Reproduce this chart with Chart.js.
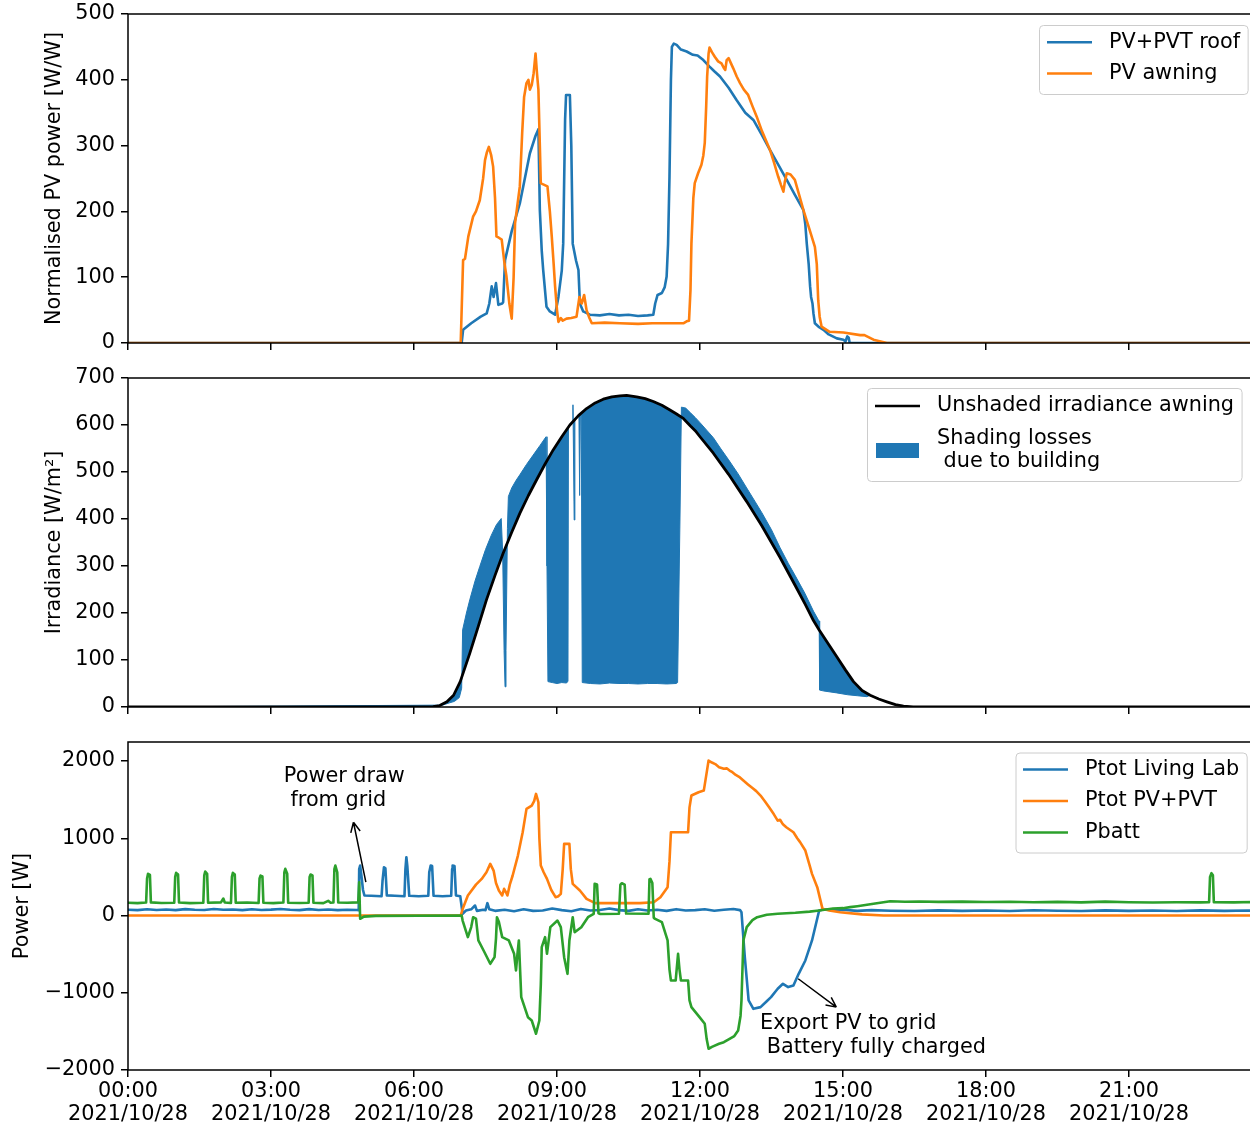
<!DOCTYPE html>
<html>
<head>
<meta charset="utf-8">
<script src="https://cdn.jsdelivr.net/npm/chart.js@4.4.1/dist/chart.umd.min.js"></script>
<style>
html, body { margin: 0; padding: 0; overflow: hidden; background: #fff; }
#wrap { position: relative; width: 1290px; height: 1126px; }
canvas { position: absolute; left: 0; }
</style>
</head>
<body>
<div id="wrap">
  <canvas id="c1" width="1290" height="360" style="top:0px"></canvas>
  <canvas id="c2" width="1290" height="360" style="top:360px"></canvas>
  <canvas id="c3" width="1290" height="406" style="top:720px"></canvas>
</div>
<script>
// ---- data (time in hours of 2021/10/28) ----
const xTickValues = [0, 3, 6, 9, 12, 15, 18, 21];
const xTickLabels = ['00:00', '03:00', '06:00', '09:00', '12:00', '15:00', '18:00', '21:00'];
const dateLabel = '2021/10/28';
const yTicksPv = [0, 100, 200, 300, 400, 500];
const yTicksIrr = [0, 100, 200, 300, 400, 500, 600, 700];
const yTicksPow = [-2000, -1000, 0, 1000, 2000];

// normalised PV power [W/W]
const pvRoof = [[0,0],[7.0,0],[7.03,20],[7.2,30],[7.4,40],[7.525,45],[7.58,60],[7.63,86],[7.67,70],[7.72,91],[7.77,58],[7.85,60],[7.87,62],[7.91,126],[8.05,170],[8.22,212],[8.43,288],[8.55,315],[8.61,325],[8.64,202],[8.68,140],[8.71,111],[8.78,55],[8.85,48],[8.96,43],[9.03,70],[9.10,110],[9.13,151],[9.17,340],[9.19,377],[9.27,377],[9.30,300],[9.33,151],[9.40,125],[9.45,111],[9.48,60],[9.55,48],[9.69,43],[9.9,42],[10.1,44],[10.3,42],[10.5,43],[10.7,41],[10.9,42],[11.02,43],[11.06,60],[11.11,73],[11.20,76],[11.26,85],[11.30,101],[11.33,150],[11.36,253],[11.39,400],[11.41,450],[11.45,455],[11.51,453],[11.6,446],[11.72,443],[11.85,438],[11.95,437],[12.07,430],[12.2,420],[12.3,413],[12.42,405],[12.6,388],[12.77,369],[12.95,350],[13.12,339],[13.3,316],[13.47,293],[13.65,270],[13.82,248],[14.0,224],[14.17,202],[14.21,180],[14.24,151],[14.28,120],[14.31,86],[14.33,70],[14.36,60],[14.38,45],[14.41,30],[14.5,24],[14.59,20],[14.7,13],[14.87,7],[15.01,5],[15.05,2],[15.09,10],[15.12,8],[15.14,0],[24,0]];
const pvAwning = [[0,0],[6.98,0],[7.03,126],[7.07,128],[7.14,162],[7.24,192],[7.30,200],[7.38,217],[7.45,250],[7.49,278],[7.53,290],[7.57,298],[7.62,285],[7.66,268],[7.70,220],[7.73,162],[7.78,160],[7.84,157],[7.90,120],[7.94,101],[8.00,60],[8.05,37],[8.09,100],[8.12,182],[8.17,210],[8.22,238],[8.27,320],[8.31,374],[8.36,395],[8.40,400],[8.43,385],[8.47,392],[8.51,410],[8.55,440],[8.58,410],[8.61,385],[8.64,300],[8.66,243],[8.71,241],[8.80,238],[8.85,200],[8.89,162],[8.93,120],[8.96,86],[9.00,50],[9.03,32],[9.08,38],[9.12,34],[9.20,37],[9.30,38],[9.41,40],[9.44,55],[9.47,70],[9.50,62],[9.52,60],[9.57,73],[9.62,50],[9.68,38],[9.73,30],[10.0,31],[10.32,30],[10.7,29],[11.0,30],[11.3,30],[11.65,30],[11.72,33],[11.77,34],[11.80,80],[11.82,151],[11.86,220],[11.89,243],[11.96,258],[12.03,271],[12.07,285],[12.10,304],[12.13,360],[12.15,405],[12.18,440],[12.20,449],[12.25,442],[12.31,435],[12.38,428],[12.45,425],[12.50,418],[12.53,415],[12.56,430],[12.60,433],[12.65,425],[12.70,417],[12.77,405],[12.84,395],[12.92,385],[13.01,377],[13.10,360],[13.19,344],[13.30,322],[13.40,305],[13.47,293],[13.55,275],[13.64,253],[13.70,240],[13.75,230],[13.78,245],[13.82,258],[13.90,256],[13.99,248],[14.08,225],[14.17,202],[14.30,172],[14.41,146],[14.45,120],[14.48,65],[14.51,40],[14.55,25],[14.72,17],[15.01,16],[15.36,12],[15.45,12],[15.64,5],[15.92,0],[24,0]];

// irradiance [W/m2]
const irrUnshaded = [[0,0],[6.13,0],[6.4,1],[6.54,3],[6.69,11],[6.83,25],[6.97,54],[7.17,114],[7.35,172],[7.52,228],[7.70,280],[7.87,327],[8.05,372],[8.22,412],[8.40,450],[8.57,483],[8.75,517],[8.92,547],[9.10,575],[9.27,600],[9.45,620],[9.62,635],[9.80,647],[9.97,655],[10.15,660],[10.32,662],[10.46,663],[10.67,660],[10.85,656],[11.02,650],[11.20,642],[11.37,632],[11.50,624],[11.65,614],[11.80,598],[11.90,588],[12.0,575],[12.28,540],[12.60,495],[12.98,437],[13.30,385],[13.68,318],[14.0,258],[14.2,220],[14.38,184],[14.50,164],[14.70,133],[14.87,107],[15.05,79],[15.22,54],[15.40,35],[15.57,25],[15.75,17],[15.92,11],[16.10,5],[16.27,2],[16.47,0],[24,0]];
const irrMeasured = [[0,0],[6.6,4],[6.75,9],[6.85,12],[6.95,20],[7.0,40],[7.02,164],[7.10,200],[7.17,228],[7.28,268],[7.38,299],[7.50,335],[7.62,365],[7.73,388],[7.83,401],[7.86,330],[7.89,120],[7.91,43],[7.93,120],[7.96,380],[7.98,448],[8.05,466],[8.14,482],[8.22,494],[8.36,516],[8.50,536],[8.64,556],[8.77,575],[8.79,300],[8.81,54],[8.9,52],[9.0,50],[9.1,52],[9.2,51],[9.23,55],[9.24,596],[9.32,606],[9.335,643],[9.35,500],[9.36,398],[9.375,611],[9.46,621],[9.475,450],[9.49,623],[9.51,625],[9.53,52],[9.7,50],[9.9,49],[10.1,51],[10.3,50],[10.5,50],[10.7,49],[10.9,50],[11.1,50],[11.3,49],[11.5,50],[11.53,52],[11.58,400],[11.61,638],[11.70,636],[11.80,626],[11.90,616],[12.0,605],[12.14,589],[12.28,573],[12.44,549],[12.60,526],[12.80,496],[12.98,466],[13.15,438],[13.30,413],[13.50,377],[13.68,339],[13.85,306],[14.0,279],[14.2,242],[14.38,204],[14.48,186],[14.50,183],[14.51,36],[14.60,34],[14.87,30],[15.10,26],[15.30,24],[15.50,22],[15.57,25],[15.75,17],[15.92,11],[16.10,5],[16.27,2],[16.47,0],[24,0]];

// power [W]
const pLivingLab = [[0,75],[0.2,70],[0.4,80],[0.6,72],[0.8,78],[1.0,70],[1.2,82],[1.4,75],[1.6,72],[1.8,85],[2.0,74],[2.2,78],[2.4,70],[2.6,80],[2.8,72],[3.0,76],[3.2,84],[3.4,74],[3.6,70],[3.8,82],[4.0,72],[4.2,78],[4.4,70],[4.6,75],[4.8,72],[4.84,70],[4.85,600],[4.87,647],[4.90,500],[4.93,330],[4.96,259],[5.1,255],[5.32,250],[5.34,450],[5.37,625],[5.40,610],[5.43,260],[5.6,255],[5.80,250],[5.82,600],[5.84,755],[5.86,640],[5.90,255],[6.1,250],[6.30,255],[6.32,560],[6.35,647],[6.38,640],[6.41,255],[6.6,250],[6.78,255],[6.80,600],[6.81,647],[6.85,640],[6.88,259],[6.97,250],[7.02,22],[7.09,65],[7.2,80],[7.28,129],[7.32,60],[7.45,75],[7.5,70],[7.54,160],[7.58,80],[7.7,60],[7.9,75],[8.1,55],[8.3,80],[8.5,60],[8.7,65],[8.9,90],[9.1,70],[9.3,55],[9.5,85],[9.7,65],[9.9,72],[10.1,90],[10.3,70],[10.5,60],[10.7,80],[10.9,65],[11.1,75],[11.3,60],[11.5,82],[11.7,65],[11.9,70],[12.1,80],[12.3,62],[12.5,75],[12.7,85],[12.84,70],[12.87,43],[12.94,-539],[13.02,-1100],[13.12,-1208],[13.27,-1186],[13.40,-1110],[13.49,-1057],[13.63,-949],[13.74,-884],[13.85,-927],[13.96,-906],[14.07,-755],[14.21,-582],[14.35,-323],[14.50,65],[14.6,80],[14.8,70],[15.0,75],[15.3,60],[15.6,70],[16.0,62],[16.5,58],[17.0,66],[17.5,60],[18.0,64],[18.5,58],[19.0,68],[19.5,62],[20.0,58],[20.5,66],[21.0,60],[21.5,64],[22.0,58],[22.5,66],[23.0,60],[23.5,64],[24,60]];
const pPvPvt = [[0,0],[6.98,0],[7.02,84],[7.13,259],[7.30,400],[7.42,474],[7.52,560],[7.60,668],[7.67,582],[7.72,420],[7.78,323],[7.85,259],[7.89,345],[7.93,300],[7.96,259],[8.01,400],[8.07,518],[8.18,776],[8.28,1078],[8.36,1380],[8.47,1423],[8.52,1480],[8.56,1574],[8.61,1466],[8.63,1000],[8.66,647],[8.72,560],[8.79,474],[8.88,330],[8.97,237],[9.03,250],[9.08,280],[9.12,600],[9.15,927],[9.26,927],[9.29,600],[9.33,410],[9.48,323],[9.62,216],[9.80,160],[10.2,160],[10.74,160],[11.03,172],[11.17,237],[11.32,367],[11.36,700],[11.39,1078],[11.75,1078],[11.78,1400],[11.82,1553],[11.97,1596],[12.08,1617],[12.14,1850],[12.18,2006],[12.25,1980],[12.32,1960],[12.40,1920],[12.50,1900],[12.56,1905],[12.62,1876],[12.68,1855],[12.75,1820],[12.82,1795],[12.91,1747],[13.00,1700],[13.10,1650],[13.18,1610],[13.27,1553],[13.36,1480],[13.45,1400],[13.55,1310],[13.63,1229],[13.68,1240],[13.74,1180],[13.81,1143],[13.96,1078],[14.04,1000],[14.10,950],[14.21,841],[14.30,650],[14.35,539],[14.46,367],[14.57,86],[14.71,65],[14.94,43],[15.4,15],[15.85,0],[24,0]];
const pBatt = [[0,165],[0.2,160],[0.38,168],[0.40,480],[0.42,540],[0.46,525],[0.48,170],[0.7,162],[0.97,165],[0.99,500],[1.01,552],[1.05,530],[1.07,168],[1.3,160],[1.58,166],[1.60,520],[1.62,569],[1.66,540],[1.68,165],[1.95,170],[2.0,220],[2.03,168],[2.16,162],[2.18,500],[2.20,552],[2.24,530],[2.26,165],[2.5,168],[2.74,162],[2.76,480],[2.78,517],[2.82,505],[2.84,165],[3.05,160],[3.26,168],[3.28,560],[3.30,604],[3.34,540],[3.36,165],[3.6,162],[3.79,166],[3.81,500],[3.83,530],[3.87,520],[3.89,165],[4.1,160],[4.2,190],[4.25,165],[4.31,168],[4.33,600],[4.35,647],[4.39,560],[4.41,168],[4.6,165],[4.83,170],[4.85,431],[4.87,-43],[4.95,-15],[5.2,-5],[7.0,0],[7.02,-65],[7.13,-280],[7.20,-150],[7.24,-22],[7.30,-40],[7.35,-323],[7.46,-453],[7.60,-625],[7.69,-539],[7.72,-300],[7.74,-22],[7.78,-80],[7.85,-280],[7.99,-323],[8.10,-496],[8.14,-712],[8.17,-500],[8.20,-323],[8.25,-1057],[8.39,-1316],[8.47,-1359],[8.56,-1531],[8.63,-1359],[8.66,-900],[8.68,-410],[8.75,-280],[8.79,-496],[8.86,-151],[9.01,-65],[9.08,-151],[9.15,-539],[9.22,-755],[9.26,-323],[9.33,-22],[9.37,-216],[9.51,-151],[9.65,-22],[9.77,22],[9.79,410],[9.84,400],[9.87,30],[9.91,20],[10.30,22],[10.33,400],[10.36,418],[10.42,400],[10.45,25],[10.92,22],[10.94,470],[10.96,474],[11.0,420],[11.03,-30],[11.06,-43],[11.20,-86],[11.32,-323],[11.36,-700],[11.39,-841],[11.49,-841],[11.54,-496],[11.57,-700],[11.60,-841],[11.75,-841],[11.78,-1100],[11.82,-1186],[11.99,-1316],[12.10,-1402],[12.14,-1600],[12.18,-1725],[12.25,-1700],[12.40,-1661],[12.50,-1640],[12.62,-1596],[12.72,-1560],[12.80,-1488],[12.85,-1300],[12.87,-1100],[12.91,-323],[12.98,-151],[13.10,-60],[13.20,-22],[13.40,10],[13.63,22],[14.0,35],[14.30,50],[14.50,65],[14.79,90],[15.0,95],[15.15,108],[15.3,120],[15.64,151],[15.99,185],[16.3,178],[16.6,182],[17.0,176],[17.5,180],[18.0,174],[18.5,178],[19.0,172],[19.5,176],[20.0,170],[20.5,180],[21.0,172],[21.5,168],[22.0,172],[22.5,170],[22.68,172],[22.70,500],[22.73,548],[22.76,520],[22.78,172],[23.2,170],[23.6,174],[24,172]];

// ---- styling ----
const BLUE = '#1f77b4', ORANGE = '#ff7f0e', GREEN = '#2ca02c';
const FS = 20.8;
const FONT = '"DejaVu Sans", sans-serif';
Chart.defaults.font.family = FONT;
Chart.defaults.font.size = FS;
Chart.defaults.color = '#000';

const pts = a => a.map(([x, y]) => ({ x, y }));
const fmt = v => (v < 0 ? '\u2212' + Math.abs(v) : String(v));

function line(label, data, color, order, extra) {
  return Object.assign({
    label, data: pts(data), borderColor: color, backgroundColor: color,
    borderWidth: 2.6, pointRadius: 0, fill: false, tension: 0, order,
    borderJoinStyle: 'round', borderCapStyle: 'round'
  }, extra || {});
}

function xAxis(showLabels, h) {
  return {
    type: 'linear', min: 0, max: 24,
    grid: { drawOnChartArea: false, drawTicks: true, tickLength: 7, color: '#000', lineWidth: 1.5 },
    border: { display: false },
    ticks: {
      display: showLabels, autoSkip: false, maxRotation: 0, padding: 3,
      font: { size: FS, lineHeight: 1.12 },
      callback: v => {
        const i = xTickValues.indexOf(v);
        return i < 0 ? '' : [xTickLabels[i], dateLabel];
      }
    },
    afterBuildTicks: s => { s.ticks = xTickValues.map(v => ({ value: v })); },
    afterFit: s => { s.height = h; s.paddingLeft = 0; s.paddingRight = 0; }
  };
}

function yAxis(min, max, tickVals, title, titlePad) {
  return {
    type: 'linear', min, max,
    grid: { drawOnChartArea: false, drawTicks: true, tickLength: 7, color: '#000', lineWidth: 1.5 },
    border: { display: false },
    ticks: { padding: 6, callback: v => fmt(v) },
    afterBuildTicks: s => { s.ticks = tickVals.map(v => ({ value: v })); },
    title: { display: true, text: title, padding: { top: titlePad, bottom: 0 }, font: { size: FS } },
    afterFit: s => { s.width = 128; s.paddingTop = 0; s.paddingBottom = 0; }
  };
}

// frame, boxed legend and annotations
const decor = {
  id: 'decor',
  afterDraw(chart) {
    const { ctx, chartArea: a } = chart;
    const o = chart.options.plugins.decor || {};
    ctx.save();
    ctx.strokeStyle = '#000';
    ctx.lineWidth = 1.5;
    ctx.strokeRect(a.left, a.top, a.right - a.left, a.bottom - a.top);

    ctx.font = FS + 'px ' + FONT;
    ctx.textBaseline = 'middle';
    if (o.legend) {
      const L = o.legend;
      let maxW = 0;
      L.items.forEach(it => {
        chart.data.datasets[it.ds].label.split('\n').forEach(t => {
          maxW = Math.max(maxW, ctx.measureText(t).width);
        });
      });
      const w = L.textX - L.x + maxW + 8;
      ctx.beginPath();
      ctx.roundRect(L.x, L.y, w, L.h, 4);
      ctx.fillStyle = 'rgba(255,255,255,0.8)';
      ctx.fill();
      ctx.strokeStyle = '#cccccc';
      ctx.lineWidth = 1;
      ctx.stroke();
      L.items.forEach(it => {
        const d = chart.data.datasets[it.ds];
        const col = it.color || d.borderColor;
        if (it.kind === 'patch') {
          ctx.fillStyle = col;
          ctx.fillRect(L.lineX[0] + 1, it.y - 7.5, L.lineX[1] - L.lineX[0] - 2, 15);
        } else {
          ctx.strokeStyle = col;
          ctx.lineWidth = 2.6;
          ctx.beginPath();
          ctx.moveTo(L.lineX[0], it.y);
          ctx.lineTo(L.lineX[1], it.y);
          ctx.stroke();
        }
        ctx.fillStyle = '#000';
        const lines = d.label.split('\n');
        lines.forEach((t, k) => {
          const ty = lines.length === 1 ? it.y : it.y + (k - (lines.length - 1) / 2) * 23;
          ctx.fillText(t, L.textX, ty);
        });
      });
    }
    (o.notes || []).forEach(n => {
      const xs = chart.scales.x, ys = chart.scales.y;
      ctx.fillStyle = '#000';
      ctx.textAlign = 'left';
      const tx = xs.getPixelForValue(n.at[0]), ty = ys.getPixelForValue(n.at[1]);
      n.lines.forEach((t, k) => ctx.fillText(t, tx, ty + k * 24));
      const x0 = xs.getPixelForValue(n.from[0]), y0 = ys.getPixelForValue(n.from[1]);
      const x1 = xs.getPixelForValue(n.to[0]), y1 = ys.getPixelForValue(n.to[1]);
      const ang = Math.atan2(y1 - y0, x1 - x0);
      ctx.strokeStyle = '#000';
      ctx.lineWidth = 1.5;
      ctx.beginPath();
      ctx.moveTo(x0, y0);
      ctx.lineTo(x1, y1);
      [-0.45, 0.45].forEach(da => {
        ctx.moveTo(x1, y1);
        ctx.lineTo(x1 - 11 * Math.cos(ang + da), y1 - 11 * Math.sin(ang + da));
      });
      ctx.stroke();
    });
    ctx.restore();
  }
};

function baseOptions(scales, decorOpts, top) {
  return {
    responsive: false, animation: false,
    layout: { padding: { top, right: 18, left: 0, bottom: 0 } },
    plugins: { legend: { display: false }, tooltip: { enabled: false }, decor: decorOpts },
    scales
  };
}

// panel 1: normalised PV power
new Chart(document.getElementById('c1'), {
  type: 'line',
  data: { datasets: [
    line('PV+PVT roof', pvRoof, BLUE, 1),
    line('PV awning', pvAwning, ORANGE, 0)
  ] },
  options: baseOptions(
    { x: xAxis(false, 17), y: yAxis(0, 500, yTicksPv, 'Normalised PV power [W/W]', 42.5) },
    { legend: { x: 1039.5, y: 25.5, h: 69, lineX: [1047, 1092], textX: 1109,
      items: [{ ds: 0, y: 42.3 }, { ds: 1, y: 73.5 }] } },
    14),
  plugins: [decor]
});

// panel 2: irradiance and shading losses
new Chart(document.getElementById('c2'), {
  type: 'line',
  data: { datasets: [
    line('Unshaded irradiance awning', irrUnshaded, '#000', 0, { borderWidth: 2.8 }),
    line('Shading losses\n due to building', irrMeasured, BLUE, 1, { borderWidth: 1, fill: 0 })
  ] },
  options: baseOptions(
    { x: xAxis(false, 13), y: yAxis(0, 700, yTicksIrr, 'Irradiance [W/m\u00b2]', 42.5) },
    { legend: { x: 867.5, y: 28.5, h: 93, lineX: [875, 920], textX: 937,
      items: [{ ds: 0, y: 46 }, { ds: 1, y: 90.5, kind: 'patch' }] } },
    18),
  plugins: [decor]
});

// panel 3: power flows
new Chart(document.getElementById('c3'), {
  type: 'line',
  data: { datasets: [
    line('Ptot Living Lab', pLivingLab, BLUE, 3),
    line('Ptot PV+PVT', pPvPvt, ORANGE, 2),
    line('Pbatt', pBatt, GREEN, 1)
  ] },
  options: baseOptions(
    { x: xAxis(true, 56), y: yAxis(-2000, 2246, yTicksPow, 'Power [W]', 10.5) },
    {
      legend: { x: 1016, y: 33, h: 100, lineX: [1023, 1068], textX: 1085,
        items: [{ ds: 0, y: 49.5 }, { ds: 1, y: 81 }, { ds: 2, y: 112.5 }] },
      notes: [
        { lines: ['Power draw', ' from grid'], at: [3.27, 1799], from: [4.99, 431], to: [4.73, 1207] },
        { lines: ['Export PV to grid', ' Battery fully charged'], at: [13.26, -1397], from: [14.06, -819], to: [14.86, -1186] }
      ]
    },
    22),
  plugins: [decor]
});
</script>
</body>
</html>
